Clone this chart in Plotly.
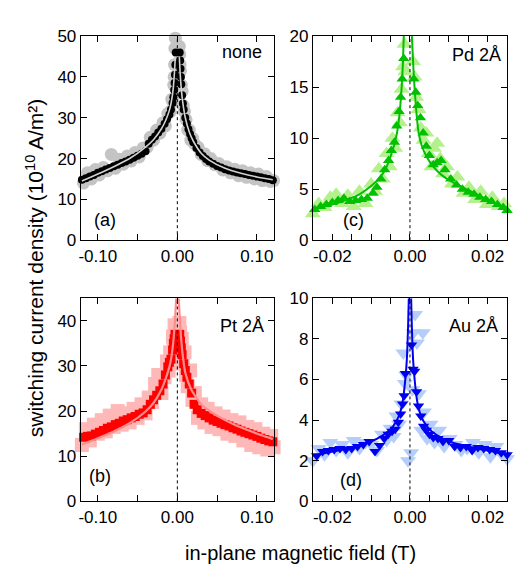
import plotly.graph_objects as go

# ---------------- data: panel (a) none ----------------
a_dark_x = [-0.120,-0.115,-0.110,-0.105,-0.100,-0.095,-0.090,-0.085,-0.080,-0.075,-0.070,-0.065,-0.060,-0.055,-0.050,-0.045,-0.040,
            -0.036,-0.032,-0.028,-0.024,-0.020,-0.016,-0.013,-0.010,-0.008,-0.006,-0.005,-0.004,-0.0035,-0.003,-0.0025,-0.002,
            0.003,0.0035,0.004,0.0045,0.005,0.006,0.007,0.008,0.010,0.012,0.014,0.016,0.018,0.020,0.024,0.028,0.032,0.036,0.040,
            0.045,0.050,0.055,0.060,0.065,0.070,0.075,0.080,0.085,0.090,0.095,0.100,0.105,0.110,0.115,0.120]
a_dark_y = [14.8,15.2,15.6,16.0,16.5,16.9,17.3,17.7,18.1,18.5,18.9,19.3,19.7,20.2,20.7,21.2,21.8,
            23.6,24.6,25.4,26.4,27.3,28.5,29.6,30.8,32.0,33.6,35.0,36.8,38.5,40.5,43.0,46.0,
            46.0,44.0,42.0,40.0,38.2,35.5,33.5,32.0,30.0,28.6,27.2,26.0,25.0,24.0,22.6,21.5,20.6,19.9,19.3,
            18.7,18.2,17.8,17.4,17.1,16.8,16.6,16.4,16.2,16.0,15.8,15.6,15.4,15.2,15.0,14.7]
a_light_x = [-0.122,-0.118,-0.113,-0.108,-0.103,-0.098,-0.093,-0.088,-0.083,-0.078,-0.073,-0.068,-0.063,-0.058,-0.053,
             -0.048,-0.043,-0.038,-0.034,-0.030,-0.026,-0.022,-0.018,-0.015,-0.012,-0.009,-0.007,-0.0055,-0.0045,-0.004,
             -0.0035,-0.003,-0.0025,
             0.0025,0.003,0.0035,0.004,0.005,0.006,0.0075,0.009,0.011,0.013,0.015,0.017,0.019,0.022,0.026,0.030,0.034,
             0.038,0.042,0.047,0.052,0.057,0.062,0.067,0.072,0.077,0.082,0.087,0.092,0.097,0.102,0.107,0.112,0.117,0.121]
a_light_y = [15.5,14.0,16.5,15.0,17.3,16.0,17.8,17.0,21.0,17.6,19.8,18.6,20.6,19.4,21.5,
             20.4,22.6,22.8,25.2,24.5,27.0,26.2,28.8,28.0,31.0,31.5,34.5,34.0,38.0,40.0,
             43.0,47.0,49.5,
             47.5,45.5,43.0,41.5,38.0,36.5,33.0,31.5,29.5,27.0,27.0,24.5,25.0,23.5,22.8,21.0,21.2,
             19.5,20.0,18.5,18.8,17.2,18.0,16.5,17.4,15.8,17.0,15.4,16.5,15.0,16.2,14.6,15.6,14.4,14.6]
a_fit_x = [-0.12,-0.10,-0.08,-0.06,-0.04,-0.03,-0.02,-0.015,-0.01,-0.007,-0.005,-0.0035,-0.0025, None,
           0.0025,0.0035,0.005,0.007,0.01,0.015,0.02,0.03,0.04,0.06,0.08,0.10,0.12]
a_fit_y = [14.5,16.2,18.0,20.0,22.8,24.6,27.3,29.2,31.8,34.5,37.5,41.5,45.0, None,
           45.0,41.0,37.0,33.5,30.0,26.5,24.3,21.3,19.6,17.6,16.4,15.5,14.8]

# ---------------- data: panel (c) Pd 2Å ----------------
c_dark_x = [-0.0245,-0.0230,-0.0215,-0.0200,-0.0185,-0.0170,-0.0155,-0.0140,-0.0125,-0.0110,-0.0095,-0.0085,-0.0075,
            -0.0065,-0.0055,-0.0048,-0.0040,-0.0034,-0.0028,-0.0024,-0.0020,-0.0016,
            0.0010,0.0015,0.0020,0.0027,0.0034,0.0042,0.0050,0.0060,0.0070,0.0080,0.0090,0.0105,0.0120,0.0135,0.0150,
            0.0165,0.0180,0.0195,0.0210,0.0225,0.0240,0.0250]
c_dark_y = [3.0,3.3,3.5,3.7,3.9,4.1,3.8,3.9,4.0,4.1,4.6,5.2,6.0,
            6.9,7.8,8.8,9.6,11.2,12.6,14.0,15.8,17.8,
            15.8,14.5,13.2,12.0,10.5,9.2,8.3,7.4,7.6,7.8,6.9,6.0,5.4,5.0,4.7,
            4.5,4.2,4.0,3.8,3.5,3.2,2.9]
c_light_x = [-0.0250,-0.0235,-0.0220,-0.0205,-0.0190,-0.0175,-0.0160,-0.0145,-0.0130,-0.0115,-0.0100,-0.0090,-0.0080,
             -0.0070,-0.0060,-0.0052,-0.0045,-0.0038,-0.0032,-0.0026,-0.0022,-0.0018,-0.0014,-0.0012,
             0.0008,0.0012,0.0016,0.0022,0.0028,0.0035,0.0042,0.0048,0.0055,0.0062,0.0070,0.0078,0.0085,0.0095,0.0108,
             0.0122,0.0138,0.0152,0.0168,0.0182,0.0198,0.0212,0.0228,0.0242,0.0252]
c_light_y = [2.6,3.6,3.2,4.2,4.5,3.6,4.4,3.3,4.8,3.6,5.5,4.8,7.0,
             6.0,8.5,7.2,10.0,9.0,12.5,11.5,14.8,17.0,19.2,16.5,
             17.5,16.0,14.0,12.8,11.0,9.8,10.5,8.5,7.2,9.0,9.5,8.0,6.5,7.2,5.5,
             6.2,4.6,5.2,4.0,4.8,3.5,4.2,3.3,3.6,2.6]
c_fit_x = [-0.025,-0.022,-0.019,-0.016,-0.013,-0.010,-0.0076,-0.006,-0.005,-0.004,-0.0033,-0.0027,-0.0021,-0.0018,-0.0016, None,
           0.0005,0.0008,0.0011,0.0016,0.0022,0.0030,0.0044,0.006,0.0078,0.010,0.0129,0.0172,0.0214,0.025]
c_fit_y = [3.0,3.3,3.6,4.0,4.5,5.3,6.2,7.2,8.2,9.4,10.6,12.3,15.2,17.5,20.0, None,
           20.0,17.5,15.4,12.8,10.6,9.3,8.1,7.2,6.5,5.9,5.3,4.5,3.7,2.9]

# ---------------- data: panel (b) Pt 2Å ----------------
b_dark_x = [-0.118,-0.113,-0.108,-0.103,-0.098,-0.093,-0.088,-0.083,-0.078,-0.073,-0.068,-0.063,-0.058,-0.053,-0.048,
            -0.043,-0.038,-0.034,-0.030,-0.026,-0.022,-0.018,-0.015,-0.012,-0.010,-0.008,-0.006,-0.005,-0.004,-0.003,
            0.003,0.004,0.005,0.006,0.008,0.010,0.012,0.015,0.018,0.021,0.025,0.030,0.035,0.040,0.045,
            0.050,0.055,0.060,0.065,0.070,0.075,0.080,0.085,0.090,0.095,0.100,0.105,0.110,0.115,0.120]
b_dark_y = [14.2,14.4,14.5,14.9,15.3,15.7,16.2,16.5,17.0,17.3,17.8,18.1,18.5,18.8,19.3,
            19.6,20.3,21.5,22.5,23.5,24.5,26.0,28.0,29.8,30.8,31.5,33.5,35.0,36.0,37.0,
            37.0,35.5,34.0,32.5,30.5,29.0,27.5,26.0,24.0,21.5,20.3,19.5,19.0,18.5,18.0,
            17.7,17.3,17.0,16.7,16.3,16.0,15.6,15.3,15.0,14.7,14.4,14.0,13.7,13.4,13.2]
b_light_x = [-0.120,-0.115,-0.110,-0.105,-0.100,-0.095,-0.090,-0.085,-0.080,-0.075,-0.070,-0.065,-0.060,-0.055,-0.050,
             -0.045,-0.040,-0.036,-0.032,-0.028,-0.024,-0.020,-0.016,-0.013,-0.011,-0.009,-0.007,-0.0055,-0.0045,-0.0035,-0.0025,
             0.0025,0.0035,0.0045,0.0055,0.007,0.009,0.011,0.013,0.016,0.019,0.022,0.026,0.030,0.034,0.038,
             0.043,0.048,0.053,0.058,0.063,0.068,0.073,0.078,0.083,0.088,0.093,0.098,0.103,0.108,0.113,0.118,0.121]
b_light_y = [12.5,16.0,13.5,17.0,15.0,18.0,15.5,19.0,16.5,20.0,17.0,19.5,17.5,20.5,18.5,
             21.5,19.5,23.0,22.0,26.0,28.0,24.0,27.5,31.0,29.0,33.0,30.5,36.5,34.0,39.0,38.0,
             39.5,37.5,34.0,36.0,31.0,33.0,28.0,25.5,29.0,22.5,24.0,18.5,21.5,17.5,20.5,
             16.5,19.5,16.0,18.8,15.0,18.0,14.5,17.5,13.5,16.5,12.5,16.0,12.0,15.0,11.5,14.5,12.0]
b_fit_x = [-0.12,-0.10,-0.08,-0.06,-0.04,-0.03,-0.02,-0.015,-0.01,-0.0075,-0.005,-0.0035,-0.0025,-0.0015, None,
           0.0017,0.0028,0.0037,0.005,0.0071,0.01,0.0175,0.03,0.0425,0.06,0.072,0.09,0.105,0.12]
b_fit_y = [12.6,14.0,15.5,17.3,19.9,21.8,24.8,27.0,29.8,31.9,35.5,38.8,41.5,45.0, None,
           45.0,41.5,39.0,35.5,31.9,28.5,24.8,21.5,19.8,18.0,17.0,15.7,14.7,13.8]

# ---------------- data: panel (d) Au 2Å ----------------
d_dark_x = [-0.0240,-0.0225,-0.0210,-0.0195,-0.0180,-0.0165,-0.0150,-0.0135,-0.0120,-0.0105,-0.0090,-0.0078,-0.0066,
            -0.0056,-0.0046,-0.0038,-0.0030,-0.0024,-0.0019,-0.0015,-0.0012,
            0.0004,0.0008,0.0012,0.0017,0.0022,0.0028,0.0035,0.0042,0.0050,0.0060,0.0072,0.0085,0.0100,0.0115,0.0130,
            0.0145,0.0160,0.0175,0.0190,0.0205,0.0220,0.0235,0.0250]
d_dark_y = [2.25,2.45,2.5,2.55,2.6,2.55,2.6,2.7,2.8,2.95,2.45,2.75,3.1,
            3.3,3.45,3.55,3.9,4.3,4.8,5.2,6.3,
            7.7,6.5,6.4,5.4,4.7,4.2,3.7,3.5,3.3,3.15,3.1,2.95,3.0,2.7,2.65,
            2.7,2.5,2.65,2.6,2.55,2.5,2.4,2.3]
d_light_x = [-0.0250,-0.0235,-0.0220,-0.0205,-0.0190,-0.0175,-0.0160,-0.0145,-0.0130,-0.0115,-0.0100,-0.0085,-0.0072,
             -0.0060,-0.0050,-0.0042,-0.0035,-0.0028,-0.0022,-0.0017,-0.0013,-0.0009,-0.0005,
             0.0003,0.0006,0.0009,0.0013,0.0018,0.0023,0.0029,0.0033,0.0036,0.0044,0.0053,0.0063,0.0075,0.0088,0.0102,
             0.0117,0.0132,0.0147,0.0162,0.0177,0.0192,0.0207,0.0222,0.0237,0.0250]
d_light_y = [2.0,2.6,2.3,2.9,2.5,2.8,2.4,3.0,2.6,2.9,2.8,2.5,3.3,
             3.0,3.6,3.2,4.2,3.8,4.8,7.3,5.8,6.2,2.0,
             2.4,5.5,8.3,9.2,7.8,5.3,3.5,8.3,4.4,3.1,3.8,2.9,3.5,2.7,3.1,
             2.8,2.5,2.6,2.9,2.4,2.8,2.2,2.7,2.3,2.1]
d_fit_x = [-0.025,-0.020,-0.015,-0.010,-0.007,-0.005,-0.0035,-0.0025,-0.0018,-0.0012,-0.0008,-0.0005,-0.0003, None,
           0.0003,0.0005,0.0008,0.0012,0.0018,0.0025,0.0035,0.005,0.007,0.010,0.015,0.020,0.025]
d_fit_y = [2.25,2.45,2.65,2.95,3.25,3.55,3.95,4.4,5.0,6.0,7.0,8.5,10.0, None,
           10.0,8.5,7.0,6.0,5.0,4.4,3.95,3.55,3.25,2.95,2.7,2.5,2.3]

# tick definitions
wide_major = [-0.10, 0.0, 0.10]
wide_major_text = ["-0.10", "0.00", "0.10"]
wide_minor = [-0.05, 0.05]
narrow_major = [-0.02, 0.0, 0.02]
narrow_major_text = ["-0.02", "0.00", "0.02"]
narrow_minor = [-0.025, -0.015, -0.01, -0.005, 0.005, 0.01, 0.015, 0.025]

W, H = 532, 582
FONT = "Liberation Sans, Arial, sans-serif"

panels = [
    dict(ax="", xpx=(79, 273), ypx=(28, 239), xr=[-0.1215, 0.1215], yr=[0, 50], yt=[0, 10, 20, 30, 40, 50],
         xt=wide_major, xtt=wide_major_text, xm=wide_minor,
         light=(a_light_x, a_light_y), dark=(a_dark_x, a_dark_y), fit=(a_fit_x, a_fit_y),
         lc="#c4c4c4", dc="#000000", fc="#d2d2d2", sym="circle", ls=13, ds=8, fw=1.6,
         label="none", tag="(a)", lab_xy=(0.948, 0.92), tag_xy=(0.057, 0.10)),
    dict(ax="2", xpx=(312, 507), ypx=(28, 239), xr=[-0.025, 0.025], yr=[0, 20], yt=[0, 5, 10, 15, 20],
         xt=narrow_major, xtt=narrow_major_text, xm=narrow_minor,
         light=(c_light_x, c_light_y), dark=(c_dark_x, c_dark_y), fit=(c_fit_x, c_fit_y),
         lc="#b4f08c", dc="#00c000", fc="#00c000", sym="triangle-up", ls=14, ds=10, fw=2,
         label="Pd 2Å", tag="(c)", lab_xy=(0.979, 0.905), tag_xy=(0.144, 0.10)),
    dict(ax="3", xpx=(79, 273), ypx=(299, 509), xr=[-0.1215, 0.1215], yr=[0, 45], yt=[0, 10, 20, 30, 40],
         xt=wide_major, xtt=wide_major_text, xm=wide_minor,
         light=(b_light_x, b_light_y), dark=(b_dark_x, b_dark_y), fit=(b_fit_x, b_fit_y),
         lc="#ffb8b8", dc="#ff0000", fc="#ff8c8c", sym="square", ls=14, ds=9, fw=2.2,
         label="Pt 2Å", tag="(b)", lab_xy=(0.959, 0.862), tag_xy=(0.031, 0.124)),
    dict(ax="4", xpx=(312, 507), ypx=(299, 509), xr=[-0.025, 0.025], yr=[0, 10], yt=[0, 2, 4, 6, 8, 10],
         xt=narrow_major, xtt=narrow_major_text, xm=narrow_minor,
         light=(d_light_x, d_light_y), dark=(d_dark_x, d_dark_y), fit=(d_fit_x, d_fit_y),
         lc="#b4cdfa", dc="#0000f0", fc="#0000f0", sym="triangle-down", ls=14, ds=10, fw=2,
         label="Au 2Å", tag="(d)", lab_xy=(0.964, 0.862), tag_xy=(0.128, 0.105)),
]

fig = go.Figure()
layout = dict(width=W, height=H, margin=dict(l=0, r=0, t=0, b=0), showlegend=False,
              plot_bgcolor="white", paper_bgcolor="white", font=dict(family=FONT, color="black"))
annotations = []
shapes = []

for p in panels:
    xa = "x" + p["ax"]
    ya = "y" + p["ax"]
    fig.add_trace(go.Scatter(x=p["light"][0], y=p["light"][1], mode="markers", xaxis=xa, yaxis=ya,
                             marker=dict(symbol=p["sym"], size=p["ls"], color=p["lc"], line=dict(width=0)),
                             cliponaxis=False))
    fig.add_trace(go.Scatter(x=p["dark"][0], y=p["dark"][1], mode="markers", xaxis=xa, yaxis=ya,
                             marker=dict(symbol=p["sym"], size=p["ds"], color=p["dc"], line=dict(width=0)),
                             cliponaxis=False))
    fig.add_trace(go.Scatter(x=p["fit"][0], y=p["fit"][1], mode="lines", xaxis=xa, yaxis=ya,
                             line=dict(color=p["fc"], width=p["fw"], shape="spline", smoothing=0.6),
                             connectgaps=False))
    xdom = [p["xpx"][0] / W, p["xpx"][1] / W]
    ydom = [1 - p["ypx"][1] / H, 1 - p["ypx"][0] / H]
    axis_common = dict(showline=True, linecolor="black", linewidth=1, mirror="ticks", ticks="inside",
                       ticklen=6, tickwidth=1, tickcolor="black", showgrid=False, zeroline=False,
                       tickfont=dict(family=FONT, size=17, color="black"))
    layout["xaxis" + p["ax"]] = dict(domain=xdom, range=p["xr"], anchor=ya, tickmode="array",
                                     tickvals=p["xt"], ticktext=p["xtt"],
                                     minor=dict(tickmode="array", tickvals=p["xm"], ticks="inside",
                                                ticklen=6, tickwidth=1, tickcolor="black", showgrid=False),
                                     **axis_common)
    layout["yaxis" + p["ax"]] = dict(domain=ydom, range=p["yr"], anchor=xa, tickmode="array",
                                     tickvals=p["yt"], ticktext=[str(v) for v in p["yt"]], **axis_common)
    shapes.append(dict(type="line", xref=xa, yref=ya + " domain", x0=0, x1=0, y0=0, y1=1,
                       line=dict(color="black", width=1, dash="dot"), layer="above"))
    annotations.append(dict(xref=xa + " domain", yref=ya + " domain", x=p["lab_xy"][0], y=p["lab_xy"][1],
                            text=p["label"], showarrow=False, xanchor="right", yanchor="middle",
                            font=dict(family=FONT, size=18, color="black")))
    annotations.append(dict(xref=xa + " domain", yref=ya + " domain", x=p["tag_xy"][0], y=p["tag_xy"][1],
                            text=p["tag"], showarrow=False, xanchor="left", yanchor="middle",
                            font=dict(family=FONT, size=18, color="black")))

annotations.append(dict(xref="paper", yref="paper", x=300 / W, y=1 - 562 / H, text="in-plane magnetic field (T)",
                        showarrow=False, xanchor="center", yanchor="middle",
                        font=dict(family=FONT, size=20, color="black")))
annotations.append(dict(xref="paper", yref="paper", x=33 / W, y=1 - 268 / H,
                        text="switching current density (10<sup>10</sup> A/m²)", textangle=-90,
                        showarrow=False, xanchor="center", yanchor="middle",
                        font=dict(family=FONT, size=21, color="black")))

layout["annotations"] = annotations
layout["shapes"] = shapes
fig.update_layout(**layout)
fig.write_html("out.html")
